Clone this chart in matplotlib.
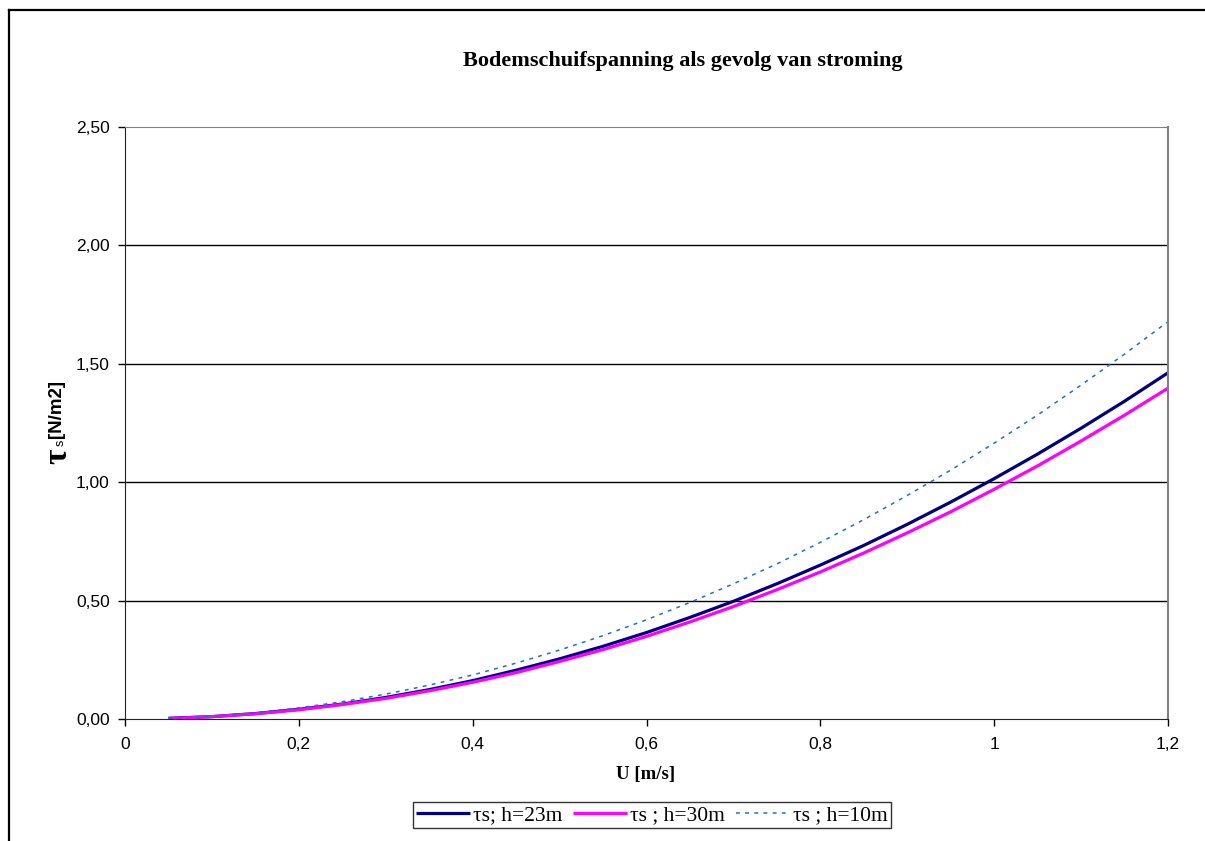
import numpy as np
import matplotlib
matplotlib.use('Agg')
import matplotlib.pyplot as plt
from matplotlib.lines import Line2D
from matplotlib.ticker import FuncFormatter

# stroomsnelheid U [m/s]
U = [0.05, 0.10, 0.15, 0.20, 0.25, 0.30, 0.35, 0.40, 0.45, 0.50, 0.55, 0.60,
     0.65, 0.70, 0.75, 0.80, 0.85, 0.90, 0.95, 1.00, 1.05, 1.10, 1.15, 1.20]

# bodemschuifspanning [N/m2]
tau_h23 = [0.003, 0.010, 0.023, 0.041, 0.063, 0.091, 0.124, 0.162, 0.206, 0.254, 0.307, 0.365,
           0.429, 0.497, 0.571, 0.650, 0.733, 0.822, 0.916, 1.015, 1.119, 1.228, 1.342, 1.462]
tau_h30 = [0.002, 0.010, 0.022, 0.039, 0.061, 0.087, 0.119, 0.155, 0.196, 0.243, 0.293, 0.349,
           0.410, 0.475, 0.546, 0.621, 0.701, 0.786, 0.875, 0.970, 1.069, 1.174, 1.283, 1.397]
tau_h10 = [0.003, 0.012, 0.026, 0.047, 0.073, 0.105, 0.143, 0.186, 0.236, 0.291, 0.352, 0.419,
           0.492, 0.571, 0.655, 0.746, 0.842, 0.944, 1.051, 1.165, 1.284, 1.410, 1.541, 1.678]

labels = ['τs; h=23m', 'τs ; h=30m', 'τs ; h=10m']

W, H = 1205, 841
fig = plt.figure(figsize=(W / 100, H / 100), dpi=100)
ax = fig.add_axes([125 / W, 1 - 719 / H, (1168 - 125) / W, (719 - 127) / H])

l1, = ax.plot(U, tau_h23, color='#000080', lw=2.3, solid_capstyle='butt')
l2, = ax.plot(U, tau_h30, color='#FF00FF', lw=2.3, solid_capstyle='butt')
l3, = ax.plot(U, tau_h10, color='#1a6fd6', lw=1.1, linestyle=(0, (2.5, 3.5)))

ax.set_xlim(0, 1.2)
ax.set_ylim(0, 2.5)
ax.set_xticks([0, 0.2, 0.4, 0.6, 0.8, 1.0, 1.2])
ax.set_yticks([0, 0.5, 1.0, 1.5, 2.0, 2.5])
ax.xaxis.set_major_formatter(FuncFormatter(lambda v, p: ('%g' % round(v, 2)).replace('.', ',')))
ax.yaxis.set_major_formatter(FuncFormatter(lambda v, p: ('%.2f' % v).replace('.', ',')))
ax.tick_params(direction='out', length=5, width=1, labelsize=12.5, colors='black')
ax.tick_params(axis='y', pad=6)
ax.tick_params(axis='x', pad=8)
for t in ax.get_xticklabels() + ax.get_yticklabels():
    t.set_family('Liberation Sans')

for y in [0.5, 1.0, 1.5, 2.0]:
    ax.axhline(y, color='black', lw=1, zorder=0)

ax.spines['top'].set_color('#808080')
ax.spines['right'].set_color('#808080')
ax.spines['right'].set_linewidth(1.5)
ax.spines['left'].set_color('#222222')
ax.spines['bottom'].set_color('#222222')

fig.text(683 / W, 1 - 61 / H, 'Bodemschuifspanning als gevolg van stroming',
         ha='center', va='center', fontsize=16, fontweight='bold', family='Liberation Serif')
fig.text(646 / W, 1 - 775 / H, 'U [m/s]', ha='center', va='center',
         fontsize=13.5, fontweight='bold', family='Liberation Serif')

# y-as label: grote tau, kleine s, dan eenheid
fig.text(58 / W, 1 - 456 / H, 'τ', rotation=90, ha='center', va='center',
         fontsize=24, fontweight='bold', family='Liberation Serif')
fig.text(61 / W, 1 - 443 / H, 's', rotation=90, ha='center', va='center',
         fontsize=9, family='Liberation Sans')
fig.text(57 / W, 1 - 438 / H, '[N/m2]', rotation=90, ha='center', va='bottom',
         fontsize=13.5, fontweight='bold', family='Liberation Sans')

leg = fig.legend([l1, l2, l3], labels, loc='center', ncol=3,
                 bbox_to_anchor=(652 / W, 1 - 815 / H),
                 prop={'family': 'Liberation Serif', 'size': 15.5},
                 frameon=True, fancybox=False, edgecolor='black',
                 handlelength=2.5, handletextpad=0.15, columnspacing=0.5,
                 borderpad=0.15, borderaxespad=0)
leg.get_frame().set_linewidth(1.0)

# rand om de grafiek
fig.add_artist(Line2D([9 / W, 9 / W], [0, 1 - 10 / H], color='black', lw=1.6))
fig.add_artist(Line2D([9 / W, 1], [1 - 10 / H, 1 - 10 / H], color='black', lw=1.6))

fig.savefig('out.png', dpi=100)
